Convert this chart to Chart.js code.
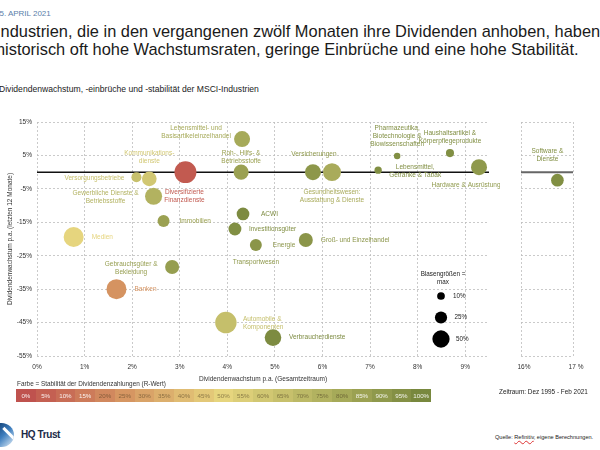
<!DOCTYPE html>
<html lang="de">
<head>
<meta charset="utf-8">
<title>Dividendenwachstum MSCI-Industrien</title>
<script src="https://cdn.jsdelivr.net/npm/chart.js@4.4.0/dist/chart.umd.min.js"></script>
<style>
  body { margin: 0; width: 600px; height: 450px; overflow: hidden; background: #fff;
         font-family: "Liberation Sans", Arial, sans-serif; position: relative; }
  .abs { position: absolute; white-space: nowrap; }
  #datum { left: -5px; top: 9px; font-size: 8px; color: #5a80aa; }
  #titel { left: -4px; top: 22px; font-size: 16.4px; line-height: 18px; color: #1a1a1a; }
  #untertitel { left: -1px; top: 84px; font-size: 8.6px; color: #222; }
  #hauptWrap { left: 0; top: 0; width: 500px; height: 400px; }
  #rechtsWrap { left: 500px; top: 0; width: 100px; height: 400px; }
  #farbeText { left: 17px; top: 380px; font-size: 6.4px; color: #333; }
  #farbskala { left: 16px; top: 389px; width: 415px; height: 13px; display: flex; }
  #farbskala div { flex: 1; font-size: 6.2px; line-height: 13px; text-align: center; }
  #zeitraum { left: 499px; top: 388px; font-size: 6.4px; color: #222; }
  #quelle { left: 495px; top: 434px; font-size: 5.6px; color: #222; }
  #quelle span { text-decoration: underline wavy #d33; text-decoration-thickness: 0.5px; }
  #logo { left: -11px; top: 423px; width: 25px; height: 24px; border-radius: 50%;
          background: linear-gradient(135deg, #0a3568 10%, #3f7fbf 55%, #d6e6f4 95%); overflow: hidden; }
  #logo div { position: absolute; left: 12px; top: 9px; width: 16px; height: 3px; background: #fff; transform: rotate(45deg); }
  #hq { left: 21px; top: 429px; font-size: 10px; font-weight: bold; color: #1b2a47; letter-spacing: -0.4px; }
</style>
</head>
<body>
<div class="abs" id="datum">15. APRIL 2021</div>
<div class="abs" id="titel">Industrien, die in den vergangenen zwölf Monaten ihre Dividenden anhoben, haben<br>historisch oft hohe Wachstumsraten, geringe Einbrüche und eine hohe Stabilität.</div>
<div class="abs" id="untertitel">Dividendenwachstum, -einbrüche und -stabilität der MSCI-Industrien</div>

<div class="abs" id="hauptWrap"><canvas id="haupt" width="500" height="400"></canvas></div>
<div class="abs" id="rechtsWrap"><canvas id="rechts" width="100" height="400"></canvas></div>

<div class="abs" id="farbeText">Farbe = Stabilität der Dividendenzahlungen (R-Wert)</div>
<div class="abs" id="farbskala"></div>
<div class="abs" id="zeitraum">Zeitraum: Dez 1995 - Feb 2021</div>

<div class="abs" id="logo"><div></div></div>
<div class="abs" id="hq">HQ Trust</div>
<div class="abs" id="quelle">Quelle: <span>Refinitiv</span>, eigene Berechnungen.</div>

<script>
// --- Daten ---
const branchen = [
  'Lebensmittel- und\nBasisartikeleinzelhandel', 'Roh-, Hilfs- &\nBetriebsstoffe', 'Diversifizierte\nFinanzdienste',
  'Kommunikations-\ndienste', 'Versorgungsbetriebe', 'Gewerbliche Dienste &\nBetriebsstoffe', 'Immobilien',
  'Medien', 'Gebrauchsgüter &\nBekleidung', 'Banken', 'Automobile &\nKomponenten', 'Verbraucherdienste',
  'ACWI', 'Investitionsgüter', 'Energie', 'Transportwesen', 'Groß- und Einzelhandel', 'Versicherungen',
  'Gesundheitswesen:\nAusstattung & Dienste', 'Lebensmittel,\nGetränke & Tabak',
  'Pharmazeutika,\nBiotechnologie &\nBiowissenschaften', 'Haushaltsartikel &\nKörperpflegeprodukte',
  'Hardware & Ausrüstung', 'Software &\nDienste'
];
// Dividendenwachstum p.a. Gesamtzeitraum (%)
const wachstumGesamt = [4.31, 4.29, 3.12, 2.36, 2.09, 2.45, 2.66, 0.77, 2.84, 1.67, 3.97, 4.96,
                        4.33, 4.16, 4.6, 4.6, 5.65, 5.8, 6.2, 7.17, 7.57, 8.68, 9.29, 16.7];
// Dividendenwachstum letzte 12 Monate (%)
const wachstum12M = [9.9, 0, 0, -2, -1.5, -7.2, -14.6, -19.4, -28.4, -35, -45, -49.5,
                     -12.5, -17, -21.8, -27, -20.3, 0, 0, 0.6, 4.8, 5.7, 1.5, -2.4];
// maximaler Einbruch (%) -> Blasengröße
const einbruch = [43, 38, 81, 36, 17, 49, 24, 67, 33, 67, 77, 46,
                  27, 28, 24, null, 33, 43, 54, 9, 7, 11, 43, 27];
// Stabilität der Dividendenzahlungen (R-Wert, %)
const stabilitaet = [80, 85, 3, 60, 65, 75, 85, 50, 87, 24, 66, 98,
                     98, 96, 92, 90, 92, 91, 79, 96, 96, 96, 90, 96];

const xTicksHaupt = [0, 1, 2, 3, 4, 5, 6, 7, 8, 9];
const xTicksRechts = [16, 17];
const yTicks = [15, 5, -5, -15, -25, -35, -45, -55];
const legendeGroessen = [10, 25, 50];
const skalaWerte = [0, 5, 10, 15, 20, 25, 30, 35, 40, 45, 50, 55, 60, 65, 70, 75, 80, 85, 90, 95, 100];

// Label-Versatz zur Blase: [dx, dy, Ausrichtung]
const labelVersatz = [
  [-46, -11, 'center'], [0, -19, 'center'], [-1, 20, 'center'], [0, -26, 'center'], [-12, 1, 'right'],
  [-48, -3, 'center'], [16, 0, 'left'], [18, 0, 'left'], [-41, -3, 'center'], [18, 0, 'left'],
  [17, -3, 'left'], [16, 0, 'left'], [18, 0, 'left'], [14, 0, 'left'], [17, 0, 'left'],
  [0, 0, 'center'], [15, 0, 'left'], [1, -18, 'center'], [0, 20, 'center'], [37, -3, 'center'],
  [0, -28, 'center'], [0, -20, 'center'], [-13, 18, 'center'], [-10, -29, 'center']
];

// --- Farbskala rot -> gelb -> oliv ---
const farbStops = [[0, [191, 82, 78]], [25, [214, 150, 98]], [50, [230, 213, 126]], [75, [178, 178, 96]], [100, [120, 136, 62]]];
function farbe(v) {
  for (let k = 1; k < farbStops.length; k++) {
    const [v1, c1] = farbStops[k];
    const [v0, c0] = farbStops[k - 1];
    if (v <= v1) {
      const t = (v - v0) / (v1 - v0);
      const c = c0.map((a, j) => Math.round(a + (c1[j] - a) * t));
      return `rgb(${c[0]}, ${c[1]}, ${c[2]})`;
    }
  }
  return 'rgb(120, 136, 62)';
}
function radius(v) { return v == null ? 0 : 1.22 * Math.sqrt(v); }

const skala = document.getElementById('farbskala');
skalaWerte.forEach(v => {
  const d = document.createElement('div');
  d.style.background = farbe(v);
  d.style.color = (v <= 15 || v >= 85) ? 'rgba(255,255,255,0.9)' : 'rgba(70,55,30,0.55)';
  d.textContent = v + '%';
  skala.appendChild(d);
});

const punkte = branchen.map((name, i) => ({
  x: wachstumGesamt[i], y: wachstum12M[i], r: radius(einbruch[i]), idx: i
}));

const gridStil = { color: '#bdbdbd', lineWidth: 0.8, drawTicks: false };
const randStil = { display: false, dash: [2, 2] };
const tickFont = { family: '"Liberation Sans", Arial, sans-serif', size: 6.5 };

// Beschriftungen + Nulllinie
const beschriftung = {
  id: 'beschriftung',
  beforeDatasetsDraw(chart, args, opts) {
    const { ctx, chartArea: a, scales: { y } } = chart;
    const y0 = y.getPixelForValue(0);
    ctx.save();
    ctx.strokeStyle = opts.linie;
    ctx.lineWidth = opts.breite;
    ctx.beginPath();
    ctx.moveTo(a.left, y0);
    ctx.lineTo(a.right, y0);
    ctx.stroke();
    ctx.restore();
  },
  afterDatasetsDraw(chart) {
    const { ctx } = chart;
    const meta = chart.getDatasetMeta(0);
    ctx.save();
    ctx.font = '6.5px "Liberation Sans", Arial, sans-serif';
    ctx.textBaseline = 'middle';
    meta.data.forEach((el, k) => {
      const i = chart.data.datasets[0].data[k].idx;
      const [dx, dy, align] = labelVersatz[i];
      ctx.fillStyle = farbe(stabilitaet[i]);
      ctx.textAlign = align;
      branchen[i].split('\n').forEach((z, n) => ctx.fillText(z, el.x + dx, el.y + dy + n * 8));
    });
    ctx.restore();
  }
};

// Legende Blasengrößen
const blasenLegende = {
  id: 'blasenLegende',
  afterDraw(chart) {
    const { ctx, chartArea: a } = chart;
    const cx = a.right - 48;
    ctx.save();
    ctx.font = '6.3px "Liberation Sans", Arial, sans-serif';
    ctx.fillStyle = '#222';
    ctx.textAlign = 'center';
    ctx.textBaseline = 'middle';
    ctx.fillText('Blasengrößen =', cx + 2, a.top + 152);
    ctx.fillText('max', cx + 2, a.top + 160);
    legendeGroessen.forEach((v, k) => {
      const yy = a.top + 174 + k * 21.5;
      ctx.beginPath();
      ctx.fillStyle = '#000';
      ctx.arc(cx, yy, radius(v), 0, Math.PI * 2);
      ctx.fill();
      ctx.fillStyle = '#222';
      ctx.textAlign = 'left';
      ctx.fillText(v + '%', cx + 12 + k * 1.5, yy);
    });
    ctx.restore();
  }
};

function yAchse(sichtbar) {
  return {
    min: -55, max: 15,
    afterBuildTicks: s => { s.ticks = yTicks.map(v => ({ value: v })); },
    afterFit: s => { s.width = sichtbar ? 37 : 0; },
    grid: gridStil,
    border: randStil,
    ticks: { display: sichtbar, padding: 5, color: '#333', font: tickFont, callback: v => v + '%' },
    title: {
      display: sichtbar, text: 'Dividendenwachstum p.a. (letzten 12 Monate)',
      color: '#333', font: tickFont, padding: { top: 6 }
    }
  };
}

// Hauptdiagramm
new Chart(document.getElementById('haupt'), {
  type: 'bubble',
  data: {
    datasets: [{
      data: punkte.filter(p => p.x < 12),
      backgroundColor: ctx => farbe(stabilitaet[ctx.raw.idx]),
      borderWidth: 0
    }]
  },
  options: {
    responsive: false, animation: false,
    layout: { padding: { top: 122, right: 11, left: 0, bottom: 0 } },
    plugins: { legend: { display: false }, tooltip: { enabled: false },
               beschriftung: { linie: '#111', breite: 1.5 } },
    scales: {
      x: {
        type: 'linear', min: 0, max: 9.5,
        afterBuildTicks: s => { s.ticks = xTicksHaupt.map(v => ({ value: v })); },
        afterFit: s => { s.height = 44; },
        grid: gridStil,
        border: randStil,
        ticks: { padding: 7, color: '#333', font: tickFont, callback: v => v + '%' },
        title: { display: true, text: 'Dividendenwachstum p.a. (Gesamtzeitraum)', color: '#333',
                 font: tickFont, padding: { bottom: 17 } }
      },
      y: yAchse(true)
    }
  },
  plugins: [beschriftung, blasenLegende]
});

// rechtes Teilpanel (Software & Dienste)
new Chart(document.getElementById('rechts'), {
  type: 'bubble',
  data: {
    datasets: [{
      data: punkte.filter(p => p.x >= 12),
      backgroundColor: ctx => farbe(stabilitaet[ctx.raw.idx]),
      borderWidth: 0
    }]
  },
  options: {
    responsive: false, animation: false,
    layout: { padding: { top: 122, right: 27, left: 21, bottom: 0 } },
    plugins: { legend: { display: false }, tooltip: { enabled: false },
               beschriftung: { linie: '#666', breite: 2 } },
    scales: {
      x: {
        type: 'linear', min: 16, max: 17,
        afterBuildTicks: s => { s.ticks = xTicksRechts.map(v => ({ value: v })); },
        afterFit: s => { s.height = 44; },
        grid: gridStil,
        border: randStil,
        ticks: { padding: 7, labelOffset: 3, color: '#333', font: tickFont,
                 callback: v => v === 17 ? '17 %' : v + '%' }
      },
      y: yAchse(false)
    }
  },
  plugins: [beschriftung]
});
</script>
</body>
</html>
